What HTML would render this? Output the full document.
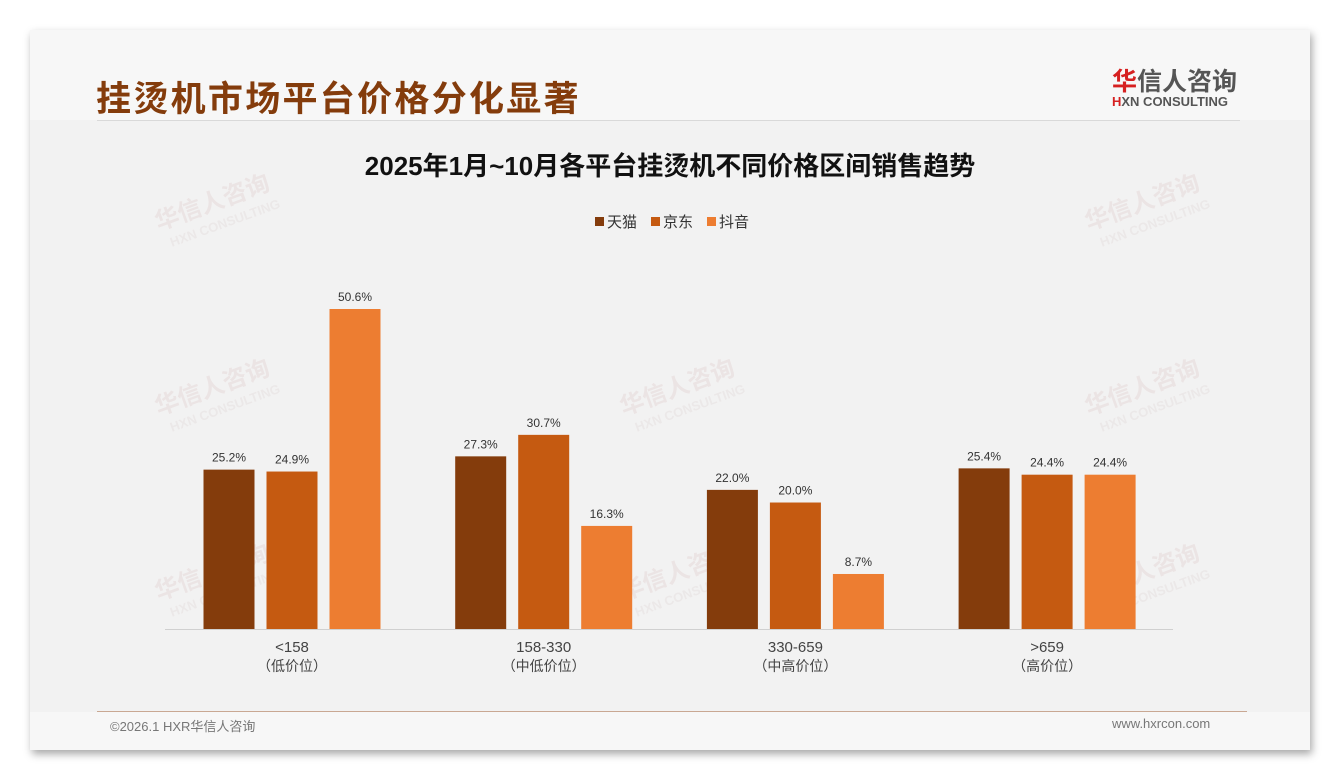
<!DOCTYPE html>
<html><head><meta charset="utf-8"><style>
body{margin:0;width:1340px;height:780px;background:#fff;position:relative;overflow:hidden;font-family:"Liberation Sans","Noto Sans CJK SC",sans-serif}
#slide{position:absolute;left:30px;top:30px;width:1280px;height:720px;background:#f2f2f2;box-shadow:2px 4px 8px rgba(0,0,0,.35)}
#hdr{position:absolute;left:0;top:0;width:1280px;height:90px;background:#f7f7f7}
#foot{position:absolute;left:0;top:682px;width:1280px;height:38px;background:#f7f7f7}
.t{position:absolute;white-space:nowrap}
</style></head><body>
<div id="slide">
<div id="hdr"></div>
<div id="foot"></div>
</div>
<div class="t" style="left:96px;top:71px;font-size:35px;font-weight:bold;color:#843c0c;letter-spacing:2.3px">挂烫机市场平台价格分化显著</div>
<div class="t" style="left:1112px;top:62px;font-size:25px;font-weight:bold;color:#555"><span style="color:#d62020">华</span>信人咨询</div>
<div class="t" style="left:1112px;top:94px;font-size:13px;font-weight:bold;color:#555"><span style="color:#d62020">H</span>XN CONSULTING</div>
<div class="t" style="left:97px;top:120px;width:1143px;height:1px;background:#d9d9d9"></div>
<div class="t" style="left:97px;top:711px;width:1150px;height:1px;background:#c9a893"></div>
<div class="t" style="left:110px;top:716px;font-size:13px;color:#777">©2026.1 HXR华信人咨询</div>
<div class="t" style="left:1112px;top:716px;font-size:13px;color:#777">www.hxrcon.com</div>
<svg id="chart" width="1340" height="780" style="position:absolute;left:0;top:0"></svg>
<script>
const categories=["<158","158-330","330-659",">659"];
const subLabels=["（低价位）","（中低价位）","（中高价位）","（高价位）"];
const seriesNames=["天猫","京东","抖音"];
const tmall=[25.2,27.3,22.0,25.4];
const jd=[24.9,30.7,20.0,24.4];
const douyin=[50.6,16.3,8.7,24.4];
const series=[tmall,jd,douyin];
const colors=["#843c0c","#c55a11","#ed7d31"];
const NS="http://www.w3.org/2000/svg";
const svg=document.getElementById('chart');
function mk(tag,attrs,text){const e=document.createElementNS(NS,tag);for(const k in attrs)e.setAttribute(k,attrs[k]);if(text!==undefined)e.textContent=text;svg.appendChild(e);return e;}
const baseY=629,pxPer=320/50.6;
function y(v){return baseY-v*pxPer;}
function xc(i){return 292+i*251.7;}
[[215,210],[215,395],[215,580],[680,395],[680,580],[1145,210],[1145,395],[1145,580]].forEach(p=>{
const g=mk('text',{x:p[0],y:p[1],'text-anchor':'middle','font-size':24,'font-weight':'bold',fill:'#e8dcdc',transform:`rotate(-20 ${p[0]} ${p[1]})`,opacity:0.6},'华信人咨询');


const g2=mk('text',{x:p[0]+5,y:p[1]+20,'text-anchor':'middle','font-size':13,'font-weight':'bold',fill:'#e8e2e2',transform:`rotate(-20 ${p[0]} ${p[1]})`,opacity:0.6},'HXN CONSULTING');


});
const ct=mk('text',{x:670,y:175,'text-anchor':'middle','font-size':26,'font-weight':'bold',fill:'#111'},'2025年1月~10月各平台挂烫机不同价格区间销售趋势');


const lx=[595,651,707];
seriesNames.forEach((n,s)=>{
const r=mk('rect',{x:lx[s],y:217,width:9,height:9,fill:colors[s]});


const t=mk('text',{x:lx[s]+12,y:227,'font-size':15,fill:'#333'},n);


});
const ax=mk('line',{x1:165,x2:1173,y1:baseY+0.5,y2:baseY+0.5,stroke:'#d0d0d0','stroke-width':1});


categories.forEach((c,i)=>{
series.forEach((arr,s)=>{
const cx=xc(i)+(s-1)*63;
const b=mk('rect',{x:cx-25.5,y:y(arr[i]),width:51,height:arr[i]*pxPer,fill:colors[s]});


const l=mk('text',{x:cx,y:y(arr[i])-8,'text-anchor':'middle','font-size':12,fill:'#333'},arr[i].toFixed(1)+'%');


});
const t1=mk('text',{x:xc(i),y:652,'text-anchor':'middle','font-size':15,fill:'#444'},c);


const t2=mk('text',{x:xc(i),y:671,'text-anchor':'middle','font-size':14,fill:'#444'},subLabels[i]);


});
</script>
</body></html>
